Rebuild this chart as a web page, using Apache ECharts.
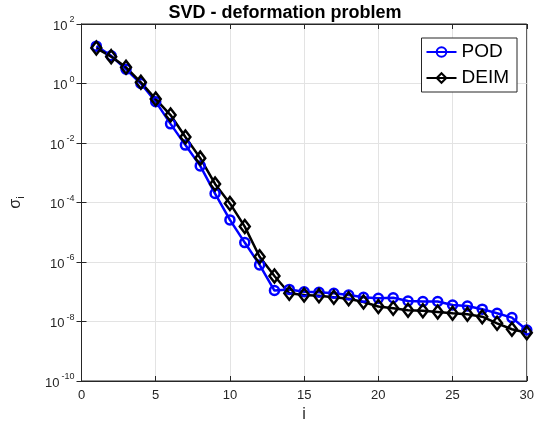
<!DOCTYPE html>
<html>
<head>
<meta charset="utf-8">
<script src="https://cdn.jsdelivr.net/npm/echarts@6/dist/echarts.min.js"></script>
<style>html,body{margin:0;padding:0;background:#fff}#c{width:537px;height:428px}</style>
</head>
<body>
<div id="c"></div>
<script>
const idx = [1,2,3,4,5,6,7,8,9,10,11,12,13,14,15,16,17,18,19,20,21,22,23,24,25,26,27,28,29,30];
const podValues = [18,8.5,3.0,1.0,0.245,0.044,0.0085,0.0017,2.0e-4,2.6e-5,4.5e-6,8e-7,1.1e-7,1.2e-7,1.0e-7,9.6e-8,8.9e-8,7.8e-8,6.5e-8,6.0e-8,6.3e-8,4.9e-8,4.7e-8,4.7e-8,3.6e-8,3.3e-8,2.6e-8,1.9e-8,1.35e-8,5.2e-9];
const deimValues = [15.5,8.0,3.5,1.1,0.30,0.087,0.016,0.0031,4.2e-4,9.3e-5,1.55e-5,1.5e-6,3.4e-7,8.9e-8,7.8e-8,7.4e-8,6.5e-8,5.8e-8,4.5e-8,3.2e-8,2.8e-8,2.4e-8,2.3e-8,2.1e-8,1.9e-8,1.75e-8,1.45e-8,8.7e-9,5.5e-9,4.2e-9];
const seriesNames = ['POD','DEIM'];
const titleText = 'SVD - deformation problem';

const FONT = '"Liberation Sans", Arial, sans-serif';
const TXT = '#262626';
const chart = echarts.init(document.getElementById('c'));
const pair = a => a.map((v,k)=>[idx[k], v]);
const yFmt = v => '{b|10}{s|' + Math.round(Math.log10(v)) + '}';
const axBase = {
  axisLine:{show:true, lineStyle:{color:TXT, width:1}},
  axisTick:{show:true, inside:true, length:5, lineStyle:{color:TXT}},
  splitLine:{show:false}, minorTick:{show:false}
};
chart.setOption({
  animation:false,
  backgroundColor:'#fff',
  textStyle:{fontFamily:FONT},
  title:{text:titleText, left:280, top:-1, textAlign:'center',
    textStyle:{fontFamily:FONT, fontSize:18, fontWeight:'bold', color:'#000'}},
  grid:{left:76, right:7, top:24, bottom:47, show:true, borderColor:TXT, borderWidth:1, backgroundColor:'#fff'},
  legend:{
    data:seriesNames, orient:'vertical', right:20, top:38,
    backgroundColor:'#fff', borderColor:TXT, borderWidth:1, padding:[4,8,4,4],
    itemWidth:30, itemHeight:12, itemGap:6,
    textStyle:{fontFamily:FONT, fontSize:19, lineHeight:20, color:'#000'}
  },
  xAxis:[
    Object.assign({}, axBase, {type:'value', min:0, max:30, interval:5, position:'bottom',
      name:'i', nameLocation:'middle', nameGap:25,
      nameTextStyle:{fontFamily:FONT, fontSize:16, color:TXT},
      axisLabel:{fontFamily:FONT, fontSize:13, color:TXT, margin:8},
      splitLine:{show:true, lineStyle:{color:'#e3e3e3', width:1}}}),
    Object.assign({}, axBase, {type:'value', min:0, max:30, interval:5, position:'top',
      axisLabel:{show:false}})
  ],
  yAxis:[
    Object.assign({}, axBase, {type:'log', logBase:10, min:1e-10, max:1e2, interval:2, position:'left',
      name:'{s|σ}{u|i}', nameLocation:'middle', nameGap:55, nameRotate:90,
      nameTextStyle:{rich:{s:{fontFamily:FONT, fontSize:16, color:TXT}, u:{fontFamily:FONT, fontSize:11, color:TXT, padding:[10,0,0,0]}}},
      axisLabel:{formatter:yFmt, margin:7, rich:{
        b:{fontFamily:FONT, fontSize:13, color:TXT, padding:[4,0,0,0]},
        s:{fontFamily:FONT, fontSize:9, color:TXT, padding:[0,0,8,2]}}},
      splitLine:{show:true, lineStyle:{color:'#e3e3e3', width:1}}}),
    Object.assign({}, axBase, {type:'log', logBase:10, min:1e-10, max:1e2, interval:2, position:'right',
      axisLabel:{show:false}})
  ],
  series:[
    {name:seriesNames[0], type:'line', data:pair(podValues), symbol:'circle', symbolSize:9,
      lineStyle:{color:'#0000ff', width:2.5},
      itemStyle:{color:'rgba(0,0,0,0)', borderColor:'#0000ff', borderWidth:2.5}},
    {name:seriesNames[1], type:'line', data:pair(deimValues), symbol:'diamond', symbolSize:[10,13],
      lineStyle:{color:'#000', width:2.5},
      itemStyle:{color:'rgba(0,0,0,0)', borderColor:'#000', borderWidth:2.5}}
  ]
});
</script>
</body>
</html>
